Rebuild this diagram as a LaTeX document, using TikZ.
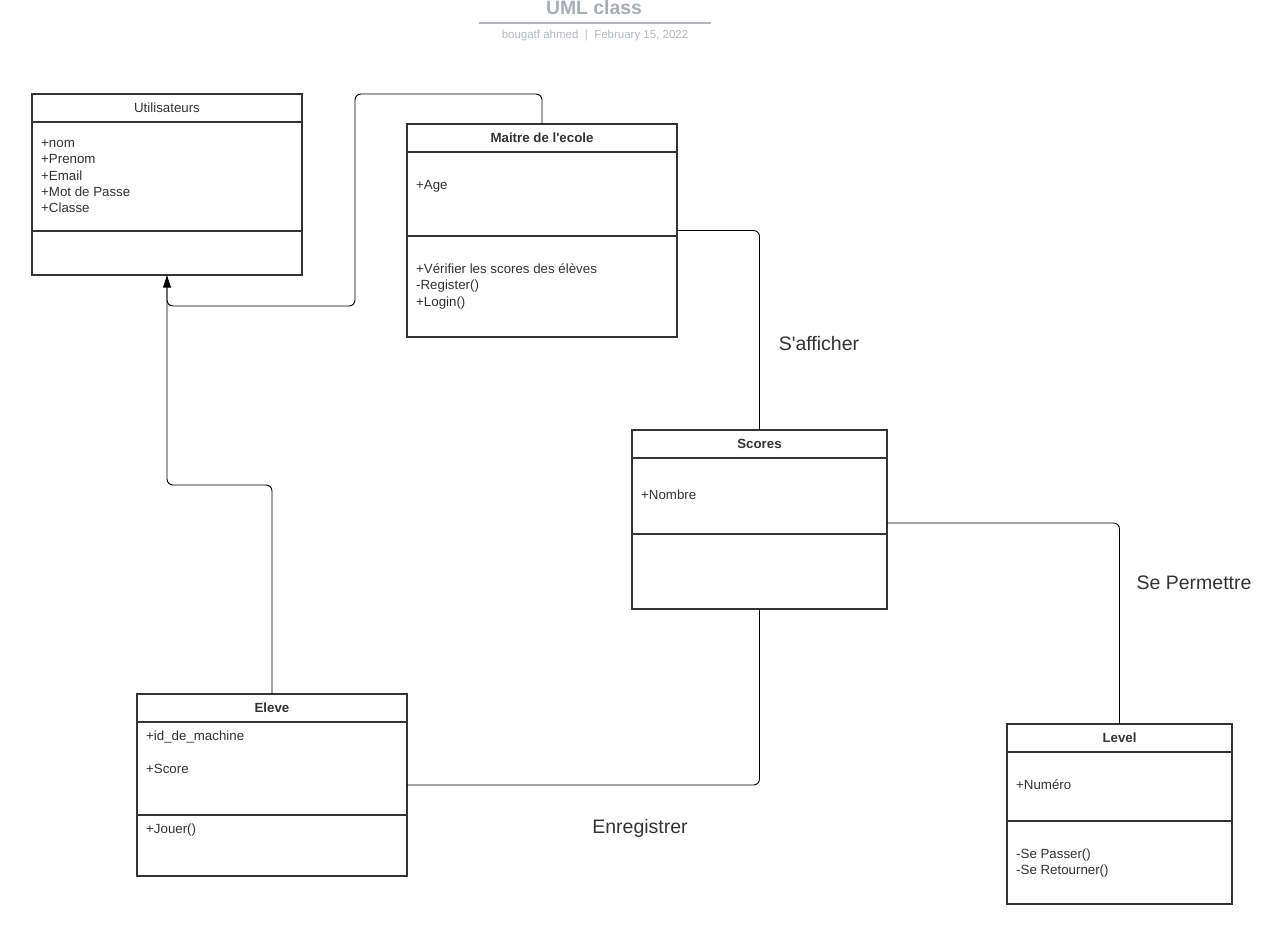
\documentclass[tikz,border=0pt]{standalone}
\usepackage{fontspec}
\setmainfont{Liberation Sans}
\usetikzlibrary{positioning,calc,arrows.meta}
\definecolor{boxgrey}{HTML}{333333}
\definecolor{titlegrey}{HTML}{A9AEB6}
\definecolor{subgrey}{HTML}{B3B7BD}
\tikzset{
  classbox/.style={draw=boxgrey,line width=1.2pt,fill=white,inner sep=0pt,outer sep=0pt,anchor=north west},
  classline/.style={draw=boxgrey,line width=1.2pt},
  classtext/.style={anchor=north west,inner sep=0pt,align=left,text=boxgrey,
                    font=\fontsize{13.3}{16.3}\selectfont,execute at begin node=\strut},
  link/.style={draw=black,line width=0.9pt,rounded corners=6pt},
  linklabel/.style={text=boxgrey,inner sep=0pt,font=\fontsize{19.5}{22}\selectfont},
}
\newcommand{\umlclass}[8]{%
  \node[classbox,minimum width=#4pt,minimum height=#5pt] (#1) at (#2,#3) {};
  \draw[classline] ($(#1.north west)+(0,#6)$) -- ($(#1.north east)+(0,#6)$);
  \draw[classline] ($(#1.north west)+(0,#7)$) -- ($(#1.north east)+(0,#7)$);
  \node[text=boxgrey,inner sep=0pt,font=\fontsize{13.3}{16}\selectfont]
        (#1-title) at ($(#1.north)+(0,#6/2)$) {#8};
}

\begin{document}
\begin{tikzpicture}[x=1pt,y=-1pt]
  \useasboundingbox (0,0) rectangle (1265,925);
  \node[text=titlegrey,inner sep=0pt,font=\fontsize{19.4}{22}\selectfont\bfseries] (title) at (594,8) {UML class};
  \coordinate (rulel) at (479,23);
  \coordinate (ruler) at (711,23);
  \draw[subgrey,line width=1.6pt] (rulel) -- (ruler);
  \node[text=subgrey,inner sep=0pt,font=\fontsize{11.5}{13}\selectfont] (subtitle) at (595,36)
        {bougatf ahmed \ | \ February 15, 2022};

  \umlclass{util}{32}{94}{270}{181}{28}{137}{Utilisateurs}
  \node[classtext] (util-attr) at ($(util.north west)+(9,45.6)$)
        {+nom\\+Prenom\\+Email\\+Mot de Passe\\+Classe};

  \umlclass{maitre}{407}{124}{270}{213}{28}{112}{\bfseries Maitre de l\textquotesingle ecole}
  \node[classtext] (maitre-attr) at ($(maitre.north west)+(9,53.6)$) {+Age};
  \node[classtext] (maitre-meth) at ($(maitre.north west)+(9,139.6)$)
        {+Vérifier les scores des élèves\\-Register()\\+Login()};

  \umlclass{scores}{632}{430}{255}{179}{28}{104}{\bfseries Scores}
  \node[classtext] (scores-attr) at ($(scores.north west)+(9,57.6)$) {+Nombre};

  \umlclass{eleve}{137}{694}{270}{182}{28}{121}{\bfseries Eleve}
  \node[classtext] (eleve-attr) at ($(eleve.north west)+(9,36.6)$) {+id\_de\_machine\\~\\+Score};
  \node[classtext] (eleve-meth) at ($(eleve.north west)+(9,127.6)$) {+Jouer()};

  \umlclass{level}{1007}{724}{225}{180}{28}{97}{\bfseries Level}
  \node[classtext] (level-attr) at ($(level.north west)+(9,53.6)$) {+Numéro};
  \node[classtext] (level-meth) at ($(level.north west)+(9,124.6)$) {-Se Passer()\\-Se Retourner()};

  \coordinate (scores-out) at ($(scores.north east)+(0,93)$);
  \draw[link] (eleve.north) |- (167,485) -- (util.south);
  \draw[link,-{Triangle[width=8pt,length=12pt]},shorten >=0.6pt] (maitre.north) |- (355,94) -- (355,306) -| (util.south);
  \draw[link] (maitre.east) -| (scores.north);
  \draw[link] (scores-out) -| (level.north);
  \draw[link] (scores.south) |- (eleve.east);

  \node[linklabel] (lblafficher) at (819,344) {S\textquotesingle afficher};
  \node[linklabel] (lblpermettre) at (1194,583) {Se Permettre};
  \node[linklabel] (lblenregistrer) at (640,828) {Enregistrer};
\end{tikzpicture}
\end{document}
